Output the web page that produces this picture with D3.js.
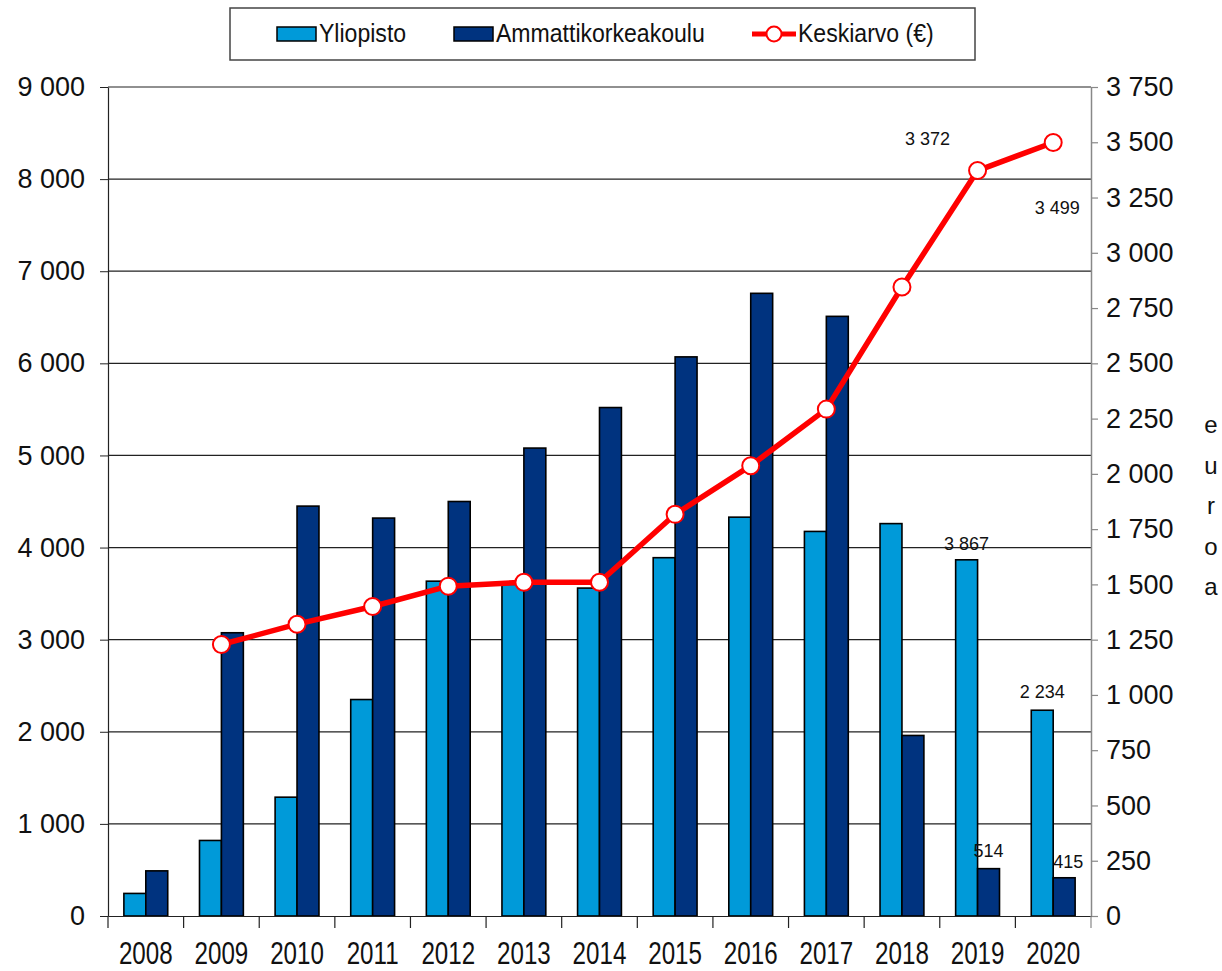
<!DOCTYPE html>
<html>
<head>
  <meta charset="utf-8">
  <title>Yliopisto / Ammattikorkeakoulu</title>
  <style>
    html, body {
      margin: 0;
      padding: 0;
      background: #fff;
    }
    svg {
      display: block;
      font-family: "Liberation Sans", Arial, sans-serif;
    }
  </style>
</head>
<body>
  <svg id="chart" width="1222" height="971"></svg>

  <script src="https://d3js.org/d3.v7.min.js"></script>
  <script>
    const years = ["2008", "2009", "2010", "2011", "2012", "2013", "2014",
                   "2015", "2016", "2017", "2018", "2019", "2020"];
    const yliopisto = [245, 820, 1290, 2350, 3635, 3600, 3560, 3890, 4330, 4175, 4260, 3867, 2234];
    const amk = [490, 3075, 4450, 4320, 4500, 5080, 5520, 6070, 6760, 6510, 1960, 514, 415];
    // keskiarvo starts from 2009
    const keskiarvo = [null, 1228, 1320, 1400, 1492, 1510, 1510, 1817, 2037, 2293, 2845, 3372, 3499];

    const leftTicks = [0, 1000, 2000, 3000, 4000, 5000, 6000, 7000, 8000, 9000];
    const rightTicks = [0, 250, 500, 750, 1000, 1250, 1500, 1750, 2000, 2250, 2500, 2750, 3000, 3250, 3500, 3750];

    const lightBlue = "#009ad9";
    const darkBlue = "#00337f";
    const red = "#ff0000";

    const svg = d3.select("#chart");
    const pLeft = 108, pRight = 1091, pTop = 87, pBottom = 916;

    const x = d3.scaleBand().domain(years).range([pLeft, pRight]).padding(0);
    const yL = d3.scaleLinear().domain([0, 9000]).range([pBottom, pTop]);
    const yR = d3.scaleLinear().domain([0, 3750]).range([pBottom, pTop]);

    const fmt = v => d3.format(",")(v).replace(/,/g, " ");

    // gridlines
    svg.append("g")
      .selectAll("line")
      .data(leftTicks.filter(d => d > 0))
      .enter()
      .append("line")
      .attr("x1", pLeft).attr("x2", pRight)
      .attr("y1", d => yL(d)).attr("y2", d => yL(d))
      .attr("stroke", "#222").attr("stroke-width", 1.2);

    // bars
    const bw = x.bandwidth() * 0.29;
    const off = x.bandwidth() * 0.21;
    const bars = svg.append("g");
    bars.selectAll("rect.yl")
      .data(years)
      .enter()
      .append("rect")
      .attr("class", "yl")
      .attr("x", (d) => x(d) + off)
      .attr("y", (d, i) => yL(yliopisto[i]))
      .attr("width", bw)
      .attr("height", (d, i) => pBottom - yL(yliopisto[i]))
      .attr("fill", lightBlue)
      .attr("stroke", "#000").attr("stroke-width", 1.6);
    bars.selectAll("rect.amk")
      .data(years)
      .enter()
      .append("rect")
      .attr("class", "amk")
      .attr("x", (d) => x(d) + off + bw)
      .attr("y", (d, i) => yL(amk[i]))
      .attr("width", bw)
      .attr("height", (d, i) => pBottom - yL(amk[i]))
      .attr("fill", darkBlue)
      .attr("stroke", "#000").attr("stroke-width", 1.6);

    // left axis
    const axL = svg.append("g").attr("transform", `translate(${pLeft},0)`)
      .call(d3.axisLeft(yL).tickValues(leftTicks).tickFormat(fmt).tickSize(8).tickSizeOuter(0).tickPadding(15));
    axL.select(".domain").attr("stroke", "#222").attr("stroke-width", 1.2);
    axL.selectAll(".tick line").attr("stroke", "#222");
    axL.selectAll("text").attr("font-size", 27).attr("fill", "#111")
      .attr("font-family", "'Liberation Sans', Arial, sans-serif");

    // right axis
    const axR = svg.append("g").attr("transform", `translate(${pRight},0)`)
      .call(d3.axisRight(yR).tickValues(rightTicks).tickFormat(fmt).tickSize(7).tickSizeOuter(0).tickPadding(8));
    axR.select(".domain").attr("stroke", "#888").attr("stroke-width", 1.5);
    axR.selectAll(".tick line").attr("stroke", "#888").attr("stroke-width", 1.2);
    axR.selectAll("text").attr("font-size", 27).attr("fill", "#111")
      .attr("font-family", "'Liberation Sans', Arial, sans-serif");

    // bottom axis, labels are condensed
    const axB = svg.append("g").attr("transform", `translate(0,${pBottom})`)
      .call(d3.axisBottom(x).tickSize(0).tickPadding(0));
    axB.select(".domain").attr("stroke", "#222").attr("stroke-width", 1.2);
    axB.selectAll("text")
      .attr("font-size", 31)
      .attr("fill", "#111")
      .attr("dy", null)
      .attr("y", 48)
      .attr("transform", "scale(0.78,1)");
    svg.append("g")
      .selectAll("line")
      .data(years.concat(["end"]))
      .enter()
      .append("line")
      .attr("x1", (d, i) => pLeft + i * x.bandwidth())
      .attr("x2", (d, i) => pLeft + i * x.bandwidth())
      .attr("y1", pBottom).attr("y2", pBottom + 12)
      .attr("stroke", (d, i) => i === years.length ? "#888" : "#222")
      .attr("stroke-width", 1.2);

    // line series
    const pts = years.map((d, i) => ({ year: d, v: keskiarvo[i] })).filter(p => p.v !== null);
    const line = d3.line()
      .x(p => x(p.year) + x.bandwidth() * 0.5)
      .y(p => yR(p.v));
    svg.append("path")
      .datum(pts)
      .attr("d", line)
      .attr("fill", "none")
      .attr("stroke", red)
      .attr("stroke-width", 5.5)
      .attr("stroke-linejoin", "round");
    svg.append("g")
      .selectAll("circle")
      .data(pts)
      .enter()
      .append("circle")
      .attr("cx", p => x(p.year) + x.bandwidth() * 0.5)
      .attr("cy", p => yR(p.v))
      .attr("r", 8.5)
      .attr("fill", "#fff")
      .attr("stroke", red)
      .attr("stroke-width", 2);

    // data labels
    const lbl = svg.append("g").attr("font-size", 18).attr("fill", "#111");
    const cx = y => x(y) + x.bandwidth() * 0.5;
    lbl.append("text").attr("x", cx("2019") - 50).attr("y", yR(3372) - 26)
      .attr("text-anchor", "middle").text(fmt(keskiarvo[11]));
    lbl.append("text").attr("x", cx("2020") + 4).attr("y", yR(3499) + 72)
      .attr("text-anchor", "middle").text(fmt(keskiarvo[12]));
    lbl.append("text").attr("x", x("2019") + off + bw / 2).attr("y", yL(3867) - 10)
      .attr("text-anchor", "middle").text(fmt(yliopisto[11]));
    lbl.append("text").attr("x", x("2020") + off + bw / 2).attr("y", yL(2234) - 12)
      .attr("text-anchor", "middle").text(fmt(yliopisto[12]));
    lbl.append("text").attr("x", x("2019") + off + bw * 1.5).attr("y", yL(514) - 12)
      .attr("text-anchor", "middle").text(fmt(amk[11]));
    lbl.append("text").attr("x", x("2020") + off + bw * 1.5 + 4).attr("y", yL(415) - 10)
      .attr("text-anchor", "middle").text(fmt(amk[12]));

    // right axis title, letters stacked
    const title = "euroa".split("");
    svg.append("g")
      .selectAll("text")
      .data(title)
      .enter()
      .append("text")
      .attr("x", 1211)
      .attr("y", (d, i) => 433 + i * 40.5)
      .attr("text-anchor", "middle")
      .attr("font-size", 24)
      .attr("fill", "#111")
      .text(d => d);

    // legend
    const lg = svg.append("g");
    lg.append("rect")
      .attr("x", 230).attr("y", 8).attr("width", 745).attr("height", 52)
      .attr("fill", "#fff").attr("stroke", "#444").attr("stroke-width", 1.5);
    const lgItems = [
      { name: "Yliopisto", type: "bar", color: lightBlue, x: 277 },
      { name: "Ammattikorkeakoulu", type: "bar", color: darkBlue, x: 454 },
      { name: "Keskiarvo (€)", type: "line", color: red, x: 752 }
    ];
    lgItems.forEach(it => {
      if (it.type === "bar") {
        lg.append("rect").attr("x", it.x).attr("y", 27).attr("width", 39).attr("height", 14)
          .attr("fill", it.color).attr("stroke", "#000").attr("stroke-width", 1.5);
      } else {
        lg.append("line").attr("x1", it.x).attr("x2", it.x + 44).attr("y1", 34).attr("y2", 34)
          .attr("stroke", red).attr("stroke-width", 5);
        lg.append("circle").attr("cx", it.x + 22).attr("cy", 34).attr("r", 7.5)
          .attr("fill", "#fff").attr("stroke", red).attr("stroke-width", 2);
      }
      lg.append("text")
        .attr("transform", `translate(${it.x + (it.type === "bar" ? 42 : 46)},42) scale(0.87,1)`)
        .attr("font-size", 26.5)
        .attr("fill", "#111")
        .text(it.name);
    });
  </script>
</body>
</html>
